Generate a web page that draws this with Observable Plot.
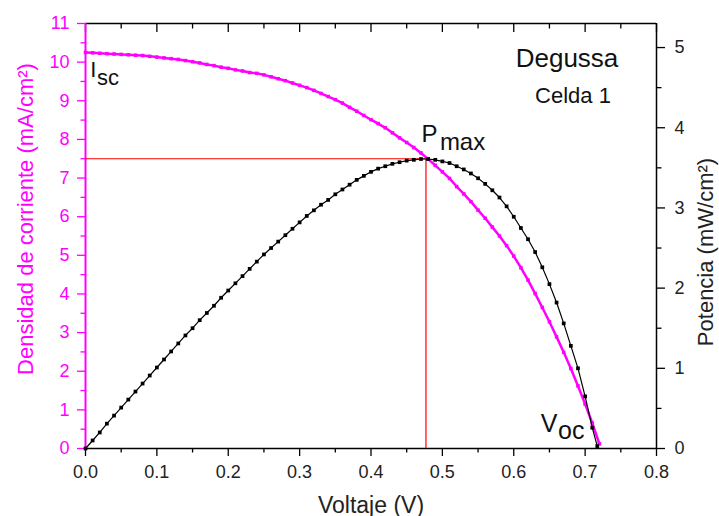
<!DOCTYPE html>
<html><head><meta charset="utf-8">
<script src="https://cdn.jsdelivr.net/npm/d3@7"></script>
<script src="https://cdn.jsdelivr.net/npm/@observablehq/plot@0.6"></script>
<style>body{margin:0;background:#fff;} svg{display:block}</style>
</head><body><div id="chart"></div>
<script>
const voltageJ = [0,0.01,0.02,0.03,0.04,0.05,0.06,0.07,0.08,0.09,0.10,0.11,0.12,0.13,0.14,0.15,0.16,0.17,0.18,0.19,0.20,0.21,0.22,0.23,0.24,0.25,0.26,0.27,0.28,0.29,0.30,0.31,0.32,0.33,0.34,0.35,0.36,0.37,0.38,0.39,0.40,0.41,0.42,0.43,0.44,0.45,0.46,0.47,0.48,0.49,0.50,0.51,0.52,0.53,0.54,0.55,0.56,0.57,0.58,0.59,0.60,0.61,0.62,0.63,0.64,0.65,0.66,0.67,0.68,0.69,0.70,0.71,0.72];
const currentDensity = [10.25,10.24,10.23,10.22,10.21,10.20,10.19,10.18,10.17,10.15,10.13,10.11,10.09,10.07,10.04,10.01,9.98,9.94,9.91,9.87,9.84,9.80,9.77,9.73,9.71,9.67,9.62,9.57,9.52,9.46,9.40,9.34,9.27,9.19,9.11,9.03,8.94,8.83,8.73,8.62,8.51,8.41,8.30,8.17,8.04,7.92,7.79,7.65,7.49,7.33,7.16,6.99,6.78,6.59,6.39,6.17,5.96,5.73,5.50,5.25,4.98,4.68,4.36,4.01,3.65,3.28,2.89,2.49,2.07,1.62,1.15,0.66,0.12];
const voltageP = [0,0.01,0.02,0.03,0.04,0.05,0.06,0.07,0.08,0.09,0.10,0.11,0.12,0.13,0.14,0.15,0.16,0.17,0.18,0.19,0.20,0.21,0.22,0.23,0.24,0.25,0.26,0.27,0.28,0.29,0.30,0.31,0.32,0.33,0.34,0.35,0.36,0.37,0.38,0.39,0.40,0.41,0.42,0.43,0.44,0.45,0.46,0.47,0.48,0.49,0.50,0.51,0.52,0.53,0.54,0.55,0.56,0.57,0.58,0.59,0.60,0.61,0.62,0.63,0.64,0.65,0.66,0.67,0.68,0.69,0.70,0.71,0.717];
const power = [0.00,0.10,0.20,0.31,0.41,0.51,0.61,0.71,0.81,0.91,1.01,1.11,1.21,1.31,1.41,1.50,1.60,1.69,1.78,1.88,1.97,2.06,2.15,2.24,2.33,2.42,2.50,2.58,2.66,2.74,2.82,2.90,2.97,3.04,3.10,3.17,3.23,3.29,3.35,3.40,3.45,3.49,3.52,3.55,3.57,3.59,3.60,3.61,3.61,3.60,3.58,3.56,3.52,3.48,3.43,3.37,3.30,3.22,3.13,3.02,2.89,2.75,2.61,2.45,2.26,2.05,1.82,1.56,1.28,1.00,0.65,0.26,0.03];
const xMajorTicks = [0,0.1,0.2,0.3,0.4,0.5,0.6,0.7,0.8];
const xMinorTicks = [0.05,0.15,0.25,0.35,0.45,0.55,0.65,0.75];
const leftMajorTicks = [0,1,2,3,4,5,6,7,8,9,10,11];
const leftMinorTicks = [0.5,1.5,2.5,3.5,4.5,5.5,6.5,7.5,8.5,9.5,10.5];
const rightMajorTicks = [0,1,2,3,4,5];
const rightMinorTicks = [0.5,1.5,2.5,3.5,4.5];
const pmaxVoltage = 0.477;
const pmaxCurrent = 7.5;
const xMax = 0.8, leftMax = 11, rightMax = 5.3;

const k = leftMax / rightMax;
const jData = voltageJ.map((v, i) => ({v, j: currentDensity[i]}));
const pData = voltageP.map((v, i) => ({v, p: power[i] * k}));
const MAG = "#ff00ff";
const font = "'Liberation Sans', Arial, sans-serif";
const blank = () => "";

const chart = Plot.plot({
  width: 719, height: 516,
  marginLeft: 85, marginRight: 63, marginTop: 23, marginBottom: 68,
  x: {domain: [0, xMax]},
  y: {domain: [0, leftMax]},
  style: {fontFamily: font, background: "#fff", overflow: "visible"},
  marks: [
    // frame
    Plot.ruleY([0, leftMax], {stroke: "#000", strokeWidth: 1.5}),
    Plot.ruleX([xMax], {stroke: "#000", strokeWidth: 1.5}),
    // bottom axis
    Plot.axisX(xMajorTicks, {anchor: "bottom", tickSize: 8, tickPadding: 9, tickFormat: d3.format(".1f"), fontSize: 18, fill: "#222", stroke: "#000", strokeWidth: 1.3, label: null}),
    Plot.axisX(xMinorTicks, {anchor: "bottom", tickSize: 4.5, tickFormat: blank, stroke: "#000", strokeWidth: 1.3, label: null}),
    // top ticks (inward)
    Plot.axisX(xMajorTicks, {anchor: "top", tickSize: -8, tickFormat: blank, stroke: "#000", strokeWidth: 1.3, label: null}),
    Plot.axisX(xMinorTicks, {anchor: "top", tickSize: -4.5, tickFormat: blank, stroke: "#000", strokeWidth: 1.3, label: null}),
    // left axis
    Plot.axisY(leftMajorTicks, {anchor: "left", tickSize: 8, tickPadding: 8, fontSize: 18, color: MAG, strokeWidth: 1.3, label: null}),
    Plot.axisY(leftMinorTicks, {anchor: "left", tickSize: 4.5, tickFormat: blank, color: MAG, strokeWidth: 1.3, label: null}),
    // right axis
    Plot.axisY(rightMajorTicks.map(t => t * k), {anchor: "right", tickSize: 8, tickPadding: 10, fontSize: 18, tickFormat: d => String(Math.round(d / k)), fill: "#222", stroke: "#000", strokeWidth: 1.3, label: null}),
    Plot.axisY(rightMinorTicks.map(t => t * k), {anchor: "right", tickSize: 4.5, tickFormat: blank, stroke: "#000", strokeWidth: 1.3, label: null}),
    // left axis line (magenta)
    Plot.ruleX([0], {stroke: MAG, strokeWidth: 2}),
    // Pmax guide lines
    Plot.ruleY([pmaxCurrent], {x1: 0, x2: pmaxVoltage, stroke: "red", strokeWidth: 1.2}),
    Plot.ruleX([pmaxVoltage], {y1: 0, y2: pmaxCurrent, stroke: "red", strokeWidth: 1.2}),
    // J-V curve
    Plot.line(jData, {x: "v", y: "j", stroke: MAG, strokeWidth: 2.5}),
    Plot.dot(jData, {x: "v", y: "j", symbol: "square", r: 2, fill: MAG}),
    // P-V curve
    Plot.line(pData, {x: "v", y: "p", stroke: "#000", strokeWidth: 1.2}),
    Plot.dot(pData, {x: "v", y: "p", symbol: "square", r: 2.1, fill: "#000"}),
    // axis titles
    Plot.text(["Voltaje (V)"], {frameAnchor: "bottom", dy: 64, lineAnchor: "bottom", textAnchor: "middle", fontSize: 23, fill: "#222"}),
    Plot.text(["Densidad de corriente (mA/cm²)"], {frameAnchor: "left", rotate: -90, dx: -60, dy: -17, textAnchor: "middle", fontSize: 22, fill: MAG}),
    Plot.text(["Potencia (mW/cm²)"], {frameAnchor: "right", rotate: -90, dx: 49, dy: 16, textAnchor: "middle", fontSize: 22, fill: "#222"}),
    // annotations
    Plot.text(["Degussa"], {x: [0.6746], y: [9.88], lineAnchor: "bottom", textAnchor: "middle", fontSize: 26, fill: "#111"}),
    Plot.text(["Celda 1"], {x: [0.683], y: [8.93], lineAnchor: "bottom", textAnchor: "middle", fontSize: 22, fill: "#111"}),
    Plot.text(["I"], {x: [0.0066], y: [9.62], lineAnchor: "bottom", textAnchor: "start", fontSize: 22, fill: "#111"}),
    Plot.text(["sc"], {x: [0.0161], y: [9.40], lineAnchor: "bottom", textAnchor: "start", fontSize: 22, fill: "#111"}),
    Plot.text(["P"], {x: [0.4708], y: [7.935], lineAnchor: "bottom", textAnchor: "start", fontSize: 24, fill: "#111"}),
    Plot.text(["max"], {x: [0.4965], y: [7.72], lineAnchor: "bottom", textAnchor: "start", fontSize: 24, fill: "#111"}),
    Plot.text(["V"], {x: [0.638], y: [0.415], lineAnchor: "bottom", textAnchor: "start", fontSize: 25, fill: "#111"}),
    Plot.text(["oc"], {x: [0.662], y: [0.233], lineAnchor: "bottom", textAnchor: "start", fontSize: 25, fill: "#111"})
  ]
});
document.getElementById("chart").appendChild(chart);
</script>
</body></html>
